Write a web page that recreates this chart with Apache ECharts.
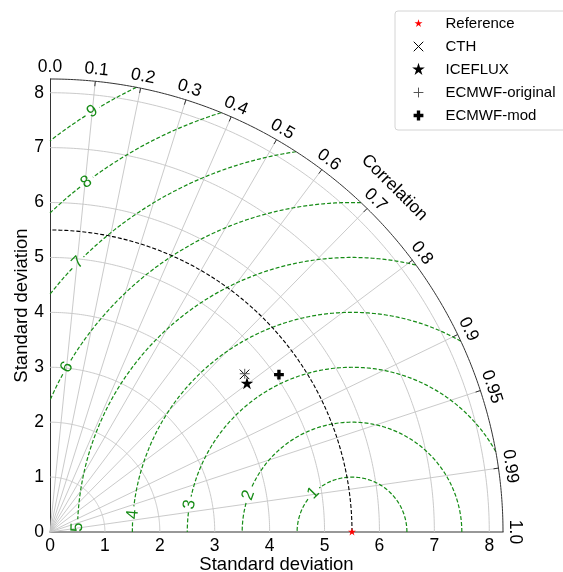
<!DOCTYPE html>
<html>
<head>
<meta charset="utf-8">
<script src="https://cdn.jsdelivr.net/npm/echarts@6/dist/echarts.min.js"></script>
<style>html,body{margin:0;padding:0;background:#fff}#c{width:563px;height:572px}</style>
</head>
<body>
<div id="c"></div>
<script>
// ---- data ----
const refName = 'Reference';
const refStd = 5.5;
const modelNames = ['CTH', 'ICEFLUX', 'ECMWF-original', 'ECMWF-mod'];
const modelStd = [4.56, 4.49, 4.57, 5.06];
const modelCorr = [0.777, 0.799, 0.776, 0.824];
const stdTicks = [0, 1, 2, 3, 4, 5, 6, 7, 8];
const stdGrid = [1, 2, 3, 4, 5, 6, 7, 8];
const corrTicks = [0.1, 0.2, 0.3, 0.4, 0.5, 0.6, 0.7, 0.8, 0.9, 0.95, 0.99];
const corrLabelValues = [0, 0.1, 0.2, 0.3, 0.4, 0.5, 0.6, 0.7, 0.8, 0.9, 0.95, 0.99, 1];
const corrLabelTexts = ['0.0', '0.1', '0.2', '0.3', '0.4', '0.5', '0.6', '0.7', '0.8', '0.9', '0.95', '0.99', '1.0'];
const rmsLevels = [1, 2, 3, 4, 5, 6, 7, 8, 9];
const rmsLabelAngles = [135, 160.5, 170.4, 175.4, 179, 150, 135.5, 127.2, 121.7];
const maxStd = 8.25;

// ---- styles ----
const F = '"Liberation Sans", Arial, Helvetica, sans-serif';
const GREEN = '#168c16';

function starPath(R) {
  const pts = [];
  for (let i = 0; i < 10; i++) {
    const a = -Math.PI / 2 + i * Math.PI / 5;
    const r = i % 2 === 0 ? R : R * 0.382;
    pts.push((r * Math.cos(a)).toFixed(3) + ',' + (r * Math.sin(a)).toFixed(3));
  }
  return 'path://M-10,-10M10,10M' + pts.join('L') + 'Z';
}
const symRef = starPath(6);
const symStar = starPath(9.5);
const symX = 'path://M-10,-10M10,10M-6.8,-6.8L6.8,6.8M6.8,-6.8L-6.8,6.8';
const symPlus = 'path://M-10,-10M10,10M0,-7L0,7M-7,0L7,0';
const symPlusBold = 'path://M-10,-10M10,10M-2.4,-7L2.4,-7L2.4,-2.4L7,-2.4L7,2.4L2.4,2.4L2.4,7L-2.4,7L-2.4,2.4L-7,2.4L-7,-2.4L-2.4,-2.4Z';

const modelSymbols = [symX, symStar, symPlus, symPlusBold];
const modelItemStyles = [
  {color: 'rgba(0,0,0,0)', borderColor: '#000', borderWidth: 1, opacity: 1},
  {color: '#000', opacity: 1},
  {color: 'rgba(0,0,0,0)', borderColor: '#555', borderWidth: 1, opacity: 1},
  {color: '#000', opacity: 1}
];

function toXY(std, corr) {
  return [std * corr, std * Math.sqrt(1 - corr * corr)];
}

function renderGrid(params, api) {
  const unit = api.size([1, 1])[0];
  const P = (x, y) => api.coord([x, y]);
  const pol = (r, a) => P(r * Math.cos(a), r * Math.sin(a));
  const kids = [];
  const gray = {stroke: '#c4c4c4', lineWidth: 0.9, fill: null};
  stdGrid.forEach(s => {
    const pts = [];
    for (let i = 0; i <= 180; i++) pts.push(pol(s, i / 180 * Math.PI / 2));
    kids.push({type: 'polyline', shape: {points: pts}, style: gray});
  });
  corrTicks.forEach(c => {
    const a = Math.acos(c);
    const p0 = P(0, 0), p1 = pol(maxStd, a);
    kids.push({type: 'line', shape: {x1: p0[0], y1: p0[1], x2: p1[0], y2: p1[1]}, style: gray});
  });
  rmsLevels.forEach((k, i) => {
    const cmin = (maxStd * maxStd - refStd * refStd - k * k) / (2 * refStd * k);
    const tMin = cmin >= 1 ? 0 : (cmin <= -1 ? Math.PI : Math.acos(cmin));
    const tMax = Math.acos(Math.max(-1, -refStd / k));
    const la = rmsLabelAngles[i] * Math.PI / 180;
    const gap = 8 / (k * unit);
    const segs = [[tMin, la - gap], [la + gap, tMax]];
    segs.forEach(([t0, t1]) => {
      if (t1 <= t0) return;
      const n = Math.max(4, Math.ceil((t1 - t0) * k * unit / 2));
      const pts = [];
      for (let j = 0; j <= n; j++) {
        const t = t0 + (t1 - t0) * j / n;
        pts.push(P(refStd + k * Math.cos(t), k * Math.sin(t)));
      }
      kids.push({type: 'polyline', shape: {points: pts},
        style: {stroke: GREEN, lineWidth: 1.2, fill: null, lineDash: [4, 2]}});
    });
    const lp = P(refStd + k * Math.cos(la), k * Math.sin(la));
    kids.push({type: 'text', x: lp[0], y: lp[1], rotation: la - Math.PI / 2,
      style: {text: String(k), fill: GREEN, fontSize: 17, fontFamily: F, align: 'center', verticalAlign: 'middle'}});
  });
  {
    const pts = [];
    for (let i = 0; i <= 180; i++) pts.push(pol(refStd, i / 180 * Math.PI / 2));
    kids.push({type: 'polyline', shape: {points: pts},
      style: {stroke: '#000', lineWidth: 1.1, fill: null, lineDash: [4, 2]}});
  }
  {
    const pts = [];
    for (let i = 0; i <= 240; i++) pts.push(pol(maxStd, i / 240 * Math.PI / 2));
    kids.push({type: 'polyline', shape: {points: pts}, style: {stroke: '#333', lineWidth: 1, fill: null}});
  }
  corrTicks.forEach(c => {
    const a = Math.acos(c);
    const p0 = pol(maxStd - 5 / unit, a), p1 = pol(maxStd, a);
    kids.push({type: 'line', shape: {x1: p0[0], y1: p0[1], x2: p1[0], y2: p1[1]}, style: {stroke: '#333', lineWidth: 1}});
  });
  corrLabelValues.forEach((c, i) => {
    const a = Math.acos(c);
    const p = pol(maxStd + 3 / unit, a);
    kids.push({type: 'text', x: p[0], y: p[1], rotation: a - Math.PI / 2,
      style: {text: corrLabelTexts[i], fill: '#000', fontSize: 17.5, fontFamily: F, align: 'center', verticalAlign: 'bottom'}});
  });
  {
    const a = Math.PI / 4;
    const p = pol(maxStd + 34 / unit, a);
    kids.push({type: 'text', x: p[0], y: p[1], rotation: a - Math.PI / 2,
      style: {text: 'Correlation', fill: '#000', fontSize: 17.5, fontFamily: F, align: 'center', verticalAlign: 'middle'}});
  }
  return {type: 'group', children: kids};
}

const series = [
  {type: 'custom', name: 'grid', coordinateSystem: 'cartesian2d', data: [[0, 0]],
    renderItem: renderGrid, silent: true, z: 1, clip: false}
];
series.push({type: 'scatter', name: refName, data: [[refStd, 0]], symbol: symRef, symbolSize: 14,
  symbolKeepAspect: true, itemStyle: {color: '#ff0000', opacity: 1}, z: 5, silent: true});
modelNames.forEach((n, i) => {
  series.push({type: 'scatter', name: n, data: [toXY(modelStd[i], modelCorr[i])],
    symbol: modelSymbols[i], symbolSize: 14, symbolKeepAspect: true,
    itemStyle: modelItemStyles[i], z: 5, silent: true});
});

const legendData = [{name: refName, icon: symRef, itemStyle: {color: '#ff0000', borderWidth: 0, opacity: 1}}]
  .concat(modelNames.map((n, i) => ({name: n, icon: modelSymbols[i],
    itemStyle: Object.assign({borderWidth: 0, borderColor: 'rgba(0,0,0,0)'}, modelItemStyles[i])})));

const chart = echarts.init(document.getElementById('c'), null, {renderer: 'canvas'});
chart.setOption({
  animation: false,
  backgroundColor: '#fff',
  textStyle: {fontFamily: F},
  grid: {left: 50, top: 79, width: 453, height: 453, containLabel: false, outerBoundsMode: 'none'},
  xAxis: {
    type: 'value', min: 0, max: maxStd, interval: 1,
    axisLine: {show: true, lineStyle: {color: '#777', width: 1.5}},
    axisTick: {show: false},
    splitLine: {show: false},
    axisLabel: {customValues: stdTicks, fontSize: 17.5, color: '#000', margin: 5, fontFamily: F,
      formatter: v => Number.isInteger(v) ? String(v) : ''},
    name: 'Standard deviation', nameLocation: 'middle', nameGap: 23, nameMoveOverlap: false,
    nameTextStyle: {fontSize: 18.5, color: '#000', fontFamily: F}
  },
  yAxis: {
    type: 'value', min: 0, max: maxStd, interval: 1,
    axisLine: {show: true, lineStyle: {color: '#333', width: 1}},
    axisTick: {show: false},
    splitLine: {show: false},
    axisLabel: {customValues: stdTicks, fontSize: 17.5, color: '#000', margin: 6, fontFamily: F,
      formatter: v => Number.isInteger(v) ? String(v) : ''},
    name: 'Standard deviation', nameLocation: 'middle', nameGap: 19, nameMoveOverlap: false,
    nameTextStyle: {fontSize: 18.5, color: '#000', fontFamily: F}
  },
  legend: {
    orient: 'vertical', left: 395, top: 11,
    padding: [5, 20, 7, 16], itemWidth: 44, itemHeight: 14, itemGap: 8,
    borderColor: '#d4d4d4', borderWidth: 1, borderRadius: 3, backgroundColor: '#fff',
    symbolKeepAspect: true, selectedMode: false,
    textStyle: {fontSize: 15, color: '#000', fontFamily: F, lineHeight: 14},
    data: legendData
  },
  series: series
});
</script>
</body>
</html>
